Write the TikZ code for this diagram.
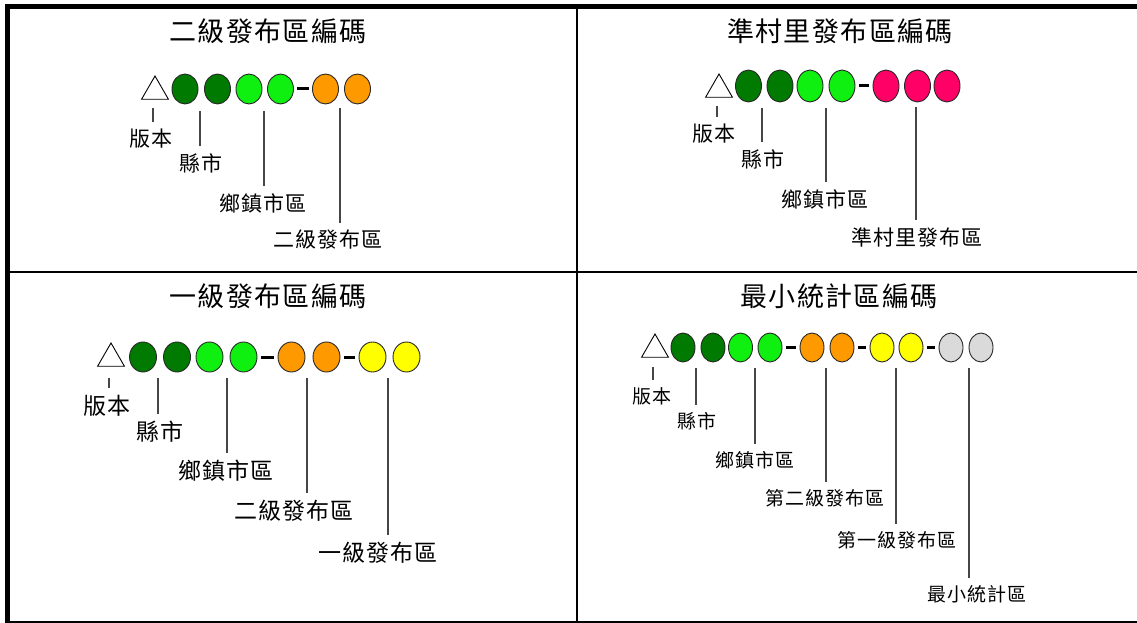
\documentclass[tikz,border=0pt]{standalone}
\usepackage{fontspec}
\newfontfamily\cjk[LetterSpace=5]{Noto Sans CJK TC}
\usetikzlibrary{shapes.geometric}
\definecolor{dkgreen}{RGB}{0,122,0}
\definecolor{ltgreen}{RGB}{16,240,16}
\definecolor{orng}{RGB}{255,153,0}
\definecolor{pinkred}{RGB}{255,0,102}
\definecolor{yel}{RGB}{255,255,0}
\definecolor{lgray}{RGB}{218,218,218}
\definecolor{edge}{RGB}{40,40,40}
\definecolor{leader}{RGB}{70,70,70}
\begin{document}
\begin{tikzpicture}[x=1pt,y=-1pt,
  frame/.style={black,line width=#1},
  dot/.style={ellipse,draw=edge,line width=0.9pt,inner sep=0pt},
  tri/.style={regular polygon,regular polygon sides=3,draw=black,line width=0.9pt,fill=white,minimum size=31pt,inner sep=0pt},
  sep/.style={black,line width=3pt,shorten <=3.5pt,shorten >=3.5pt},
  lead/.style={leader,line width=1.2pt},
  ttl/.style={font=\cjk\fontsize{27}{27}\selectfont,inner sep=0pt},
  labA/.style={font=\cjk\fontsize{21}{21}\selectfont,inner xsep=0pt,inner ysep=7pt},
  labB/.style={font=\cjk\fontsize{23}{23}\selectfont,inner xsep=0pt,inner ysep=7pt},
  labC/.style={font=\cjk\fontsize{19}{19}\selectfont,inner xsep=0pt,inner ysep=7pt}]
\useasboundingbox (0,0) rectangle (1137,623);
% frame
\draw[frame=5pt] (7.5,623) -- (7.5,6.5) -- (1137,6.5);
\draw[frame=2pt] (7.5,622) -- (1137,622);
\draw[frame=2pt] (10,272) -- (1137,272);
\draw[frame=2pt] (576.5,9) -- (576.5,621);

% ---------- panel 1 ----------
\node[ttl] (t1) at (268,31) {二級發布區編碼};
\node[tri] (p1v) at (155,91.5) {};
\foreach \x/\c [count=\i] in {185/dkgreen,217.5/dkgreen,249/ltgreen,280.5/ltgreen,325.5/orng,357.5/orng}
  \node[dot,fill=\c,minimum width=26pt,minimum height=30pt] (p1c\i) at (\x,89) {};
\draw[sep] (p1c4.east) -- (p1c5.west);
\node[labA] (p1l1) at (151,139) {版本};
\node[labA] (p1l2) at (201,163) {縣市};
\node[labA] (p1l3) at (263,203) {鄉鎮市區};
\node[labA] (p1l4) at (328,240) {二級發布區};
\coordinate (p1k1) at (153,108);
\coordinate (p1k2) at (200,111);
\coordinate (p1k3) at (264,111);
\coordinate (p1k4) at (340,108);
\foreach \i in {1,...,4} \draw[lead] (p1k\i) -- (p1k\i |- p1l\i.north);

% ---------- panel 2 ----------
\node[ttl] (t2) at (840,31) {準村里發布區編碼};
\node[tri] (p2v) at (719,89.5) {};
\foreach \x/\c [count=\i] in {748.5/dkgreen,780/dkgreen,810/ltgreen,842/ltgreen,886/pinkred,917.5/pinkred,947/pinkred}
  \node[dot,fill=\c,minimum width=26pt,minimum height=32pt] (p2c\i) at (\x,86) {};
\draw[sep] (p2c4.east) -- (p2c5.west);
\node[labA] (p2l1) at (714,134) {版本};
\node[labA] (p2l2) at (763,159) {縣市};
\node[labA] (p2l3) at (825,199) {鄉鎮市區};
\node[labA] (p2l4) at (917,237) {準村里發布區};
\coordinate (p2k1) at (717,106);
\coordinate (p2k2) at (762,108);
\coordinate (p2k3) at (826,108);
\coordinate (p2k4) at (916,107);
\foreach \i in {1,...,4} \draw[lead] (p2k\i) -- (p2k\i |- p2l\i.north);

% ---------- panel 3 ----------
\node[ttl] (t3) at (268,296) {一級發布區編碼};
\node[tri] (p3v) at (111,358.5) {};
\foreach \x/\c [count=\i] in {143/dkgreen,177/dkgreen,209.5/ltgreen,243.5/ltgreen,291.5/orng,326.5/orng,372.5/yel,406.5/yel}
  \node[dot,fill=\c,minimum width=27pt,minimum height=30pt] (p3c\i) at (\x,357) {};
\draw[sep] (p3c4.east) -- (p3c5.west);
\draw[sep] (p3c6.east) -- (p3c7.west);
\node[labB] (p3l1) at (107,406) {版本};
\node[labB] (p3l2) at (160,432) {縣市};
\node[labB] (p3l3) at (226,471) {鄉鎮市區};
\node[labB] (p3l4) at (294,511) {二級發布區};
\node[labB] (p3l5) at (378,553) {一級發布區};
\coordinate (p3k1) at (109,378);
\coordinate (p3k2) at (158,378);
\coordinate (p3k3) at (227,378);
\coordinate (p3k4) at (307,378);
\coordinate (p3k5) at (388,378);
\foreach \i in {1,...,5} \draw[lead] (p3k\i) -- (p3k\i |- p3l\i.north);

% ---------- panel 4 ----------
\node[ttl] (t4) at (839,296) {最小統計區編碼};
\node[tri] (p4v) at (655,349.5) {};
\foreach \x/\c [count=\i] in {683/dkgreen,713/dkgreen,740.5/ltgreen,770/ltgreen,812/orng,842/orng,882/yel,911/yel,951/lgray,981/lgray}
  \node[dot,fill=\c,minimum width=24pt,minimum height=29pt] (p4c\i) at (\x,347.5) {};
\draw[sep] (p4c4.east) -- (p4c5.west);
\draw[sep] (p4c6.east) -- (p4c7.west);
\draw[sep] (p4c8.east) -- (p4c9.west);
\node[labC] (p4l1) at (652,396) {版本};
\node[labC] (p4l2) at (697,421) {縣市};
\node[labC] (p4l3) at (755,460) {鄉鎮市區};
\node[labC] (p4l4) at (825,498) {第二級發布區};
\node[labC] (p4l5) at (897,540) {第一級發布區};
\node[labC] (p4l6) at (977,594) {最小統計區};
\coordinate (p4k1) at (653,367);
\coordinate (p4k2) at (696,368);
\coordinate (p4k3) at (755,368);
\coordinate (p4k4) at (826,368);
\coordinate (p4k5) at (896,368);
\coordinate (p4k6) at (969,368);
\foreach \i in {1,...,6} \draw[lead] (p4k\i) -- (p4k\i |- p4l\i.north);
\end{tikzpicture}
\end{document}
